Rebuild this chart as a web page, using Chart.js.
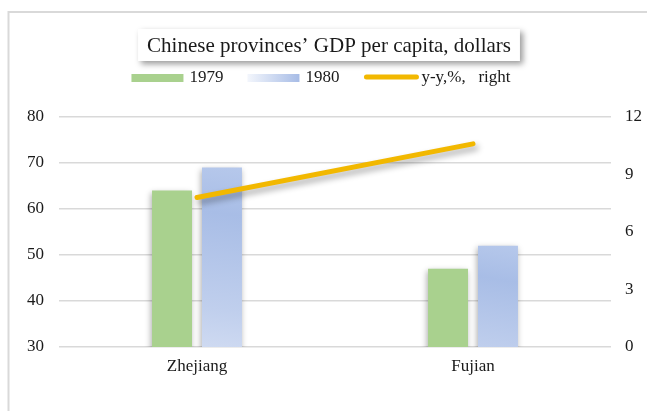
<!DOCTYPE html>
<html>
<head>
<meta charset="utf-8">
<script src="https://cdn.jsdelivr.net/npm/chart.js@4.4.1/dist/chart.umd.min.js"></script>
<style>
  html, body { margin: 0; padding: 0; background: #ffffff; }
  canvas { display: block; }
</style>
</head>
<body>
<canvas id="c" width="647" height="411"></canvas>
<script>
const titleText = 'Chinese provinces\u2019 GDP per capita, dollars';
const categories = ['Zhejiang', 'Fujian'];
const gdp1979 = [64, 47];
const gdp1980 = [69, 52];
const yoyPct = [7.8, 10.6];
const seriesLabels = ['1979', '1980', 'y-y,%,   right'];
const leftAxis = { min: 30, max: 80, step: 10 };
const rightAxis = { min: 0, max: 12, step: 3 };

const FONT = '"Liberation Serif", "Times New Roman", serif';
const GREEN = '#A9D18E';
const GOLD = '#F2B800';
const GRID = '#D9D9D9';
const TEXT = '#1a1a1a';

function blueBarGradient(ctx, left, bottom, w, h) {
  const g = ctx.createLinearGradient(left, bottom, left + w, bottom - h);
  g.addColorStop(0, '#F5F7FD');
  g.addColorStop(0.2, '#E9EEF9');
  g.addColorStop(0.55, '#C0CFED');
  g.addColorStop(0.85, '#A8BDE6');
  g.addColorStop(1, '#B6C8EB');
  return g;
}

const framePlugin = {
  id: 'frame',
  beforeDraw(chart) {
    const ctx = chart.ctx;
    ctx.save();
    ctx.fillStyle = '#ffffff';
    ctx.fillRect(0, 0, chart.width, chart.height);
    ctx.strokeStyle = GRID;
    ctx.lineWidth = 2;
    ctx.strokeRect(8.5, 12, chart.width + 20, chart.height + 20);
    ctx.font = '21px ' + FONT;
    const tw = ctx.measureText(titleText).width;
    const cx = 329;
    const bx = cx - tw / 2 - 9, bw = tw + 18;
    ctx.shadowColor = 'rgba(0,0,0,0.40)';
    ctx.shadowBlur = 6;
    ctx.shadowOffsetX = 3;
    ctx.shadowOffsetY = 3;
    ctx.fillStyle = '#ffffff';
    ctx.fillRect(bx, 29, bw, 32);
    ctx.shadowColor = 'transparent';
    ctx.fillStyle = TEXT;
    ctx.textAlign = 'center';
    ctx.textBaseline = 'middle';
    ctx.fillText(titleText, cx, 46);
    ctx.restore();
  }
};

const legendPlugin = {
  id: 'customLegend',
  afterDraw(chart) {
    const ctx = chart.ctx;
    ctx.save();
    ctx.font = '17px ' + FONT;
    const sw = 52, gap = 6, itemGap = 24;
    const widths = seriesLabels.map(l => sw + gap + ctx.measureText(l).width);
    const total = widths.reduce((a, b) => a + b, 0) + itemGap * (widths.length - 1);
    let x = 321 - total / 2;
    const yc = 78;
    seriesLabels.forEach((label, i) => {
      if (i === 0) {
        ctx.fillStyle = GREEN;
        ctx.fillRect(x, yc - 4, sw, 8);
      } else if (i === 1) {
        const g = ctx.createLinearGradient(x, 0, x + sw, 0);
        g.addColorStop(0, '#F3F6FC');
        g.addColorStop(1, '#A7BCE6');
        ctx.fillStyle = g;
        ctx.fillRect(x, yc - 4, sw, 8);
      } else {
        ctx.strokeStyle = GOLD;
        ctx.lineWidth = 5;
        ctx.lineCap = 'round';
        ctx.beginPath();
        ctx.moveTo(x + 3, yc - 1);
        ctx.lineTo(x + sw + 1, yc - 1);
        ctx.stroke();
      }
      ctx.fillStyle = TEXT;
      ctx.textAlign = 'left';
      ctx.textBaseline = 'middle';
      ctx.fillText(label, x + sw + gap, yc);
      x += widths[i] + itemGap;
    });
    ctx.restore();
  }
};

const shadowPlugin = {
  id: 'shadows',
  beforeDatasetDraw(chart, args) {
    const ctx = chart.ctx;
    const meta = args.meta;
    if (meta.type === 'bar' && args.index === 1) {
      meta.data.forEach(el => {
        const left = el.x - el.width / 2;
        const h = el.base - el.y;
        const g = blueBarGradient(ctx, left, el.base, el.width, h);
        el.options = Object.assign({}, el.options, { backgroundColor: g });
      });
    }
    ctx.save();
    ctx.shadowColor = 'rgba(0,0,0,0.33)';
    ctx.shadowBlur = 6;
    if (meta.type === 'bar') {
      ctx.shadowOffsetX = -1;
      ctx.shadowOffsetY = 2;
    } else {
      ctx.shadowOffsetX = 3;
      ctx.shadowOffsetY = 4;
    }
  },
  afterDatasetDraw(chart) {
    chart.ctx.restore();
  }
};

new Chart(document.getElementById('c'), {
  data: {
    labels: categories,
    datasets: [
      {
        type: 'bar', label: seriesLabels[0], data: gdp1979, yAxisID: 'y',
        backgroundColor: GREEN, borderWidth: 0, order: 2,
        categoryPercentage: 0.362, barPercentage: 0.8
      },
      {
        type: 'bar', label: seriesLabels[1], data: gdp1980, yAxisID: 'y',
        backgroundColor: '#B8CAEB', borderWidth: 0, order: 2,
        categoryPercentage: 0.362, barPercentage: 0.8
      },
      {
        type: 'line', label: seriesLabels[2], data: yoyPct, yAxisID: 'y1',
        borderColor: GOLD, borderWidth: 5, borderCapStyle: 'round',
        pointRadius: 0, pointHoverRadius: 0, fill: false, tension: 0, order: 0
      }
    ]
  },
  options: {
    responsive: false,
    devicePixelRatio: 1,
    animation: false,
    events: [],
    layout: { padding: { top: 117, left: 0, right: 0, bottom: 0 } },
    plugins: {
      legend: { display: false },
      title: { display: false },
      tooltip: { enabled: false }
    },
    scales: {
      x: {
        grid: { display: false, drawTicks: false },
        border: { display: false },
        ticks: { color: TEXT, font: { family: FONT, size: 17 }, padding: 9 },
        afterFit(scale) { scale.height = 64; }
      },
      y: {
        position: 'left',
        min: leftAxis.min, max: leftAxis.max,
        ticks: { stepSize: leftAxis.step, color: TEXT, font: { family: FONT, size: 17 }, padding: 15 },
        grid: { color: GRID, lineWidth: 1.5, drawTicks: false },
        border: { display: false },
        afterFit(scale) { scale.width = 59; }
      },
      y1: {
        position: 'right',
        min: rightAxis.min, max: rightAxis.max,
        ticks: { stepSize: rightAxis.step, color: TEXT, font: { family: FONT, size: 17 }, padding: 14 },
        grid: { display: false, drawTicks: false },
        border: { display: false },
        afterFit(scale) { scale.width = 36; }
      }
    }
  },
  plugins: [framePlugin, shadowPlugin, legendPlugin]
});
</script>
</body>
</html>
